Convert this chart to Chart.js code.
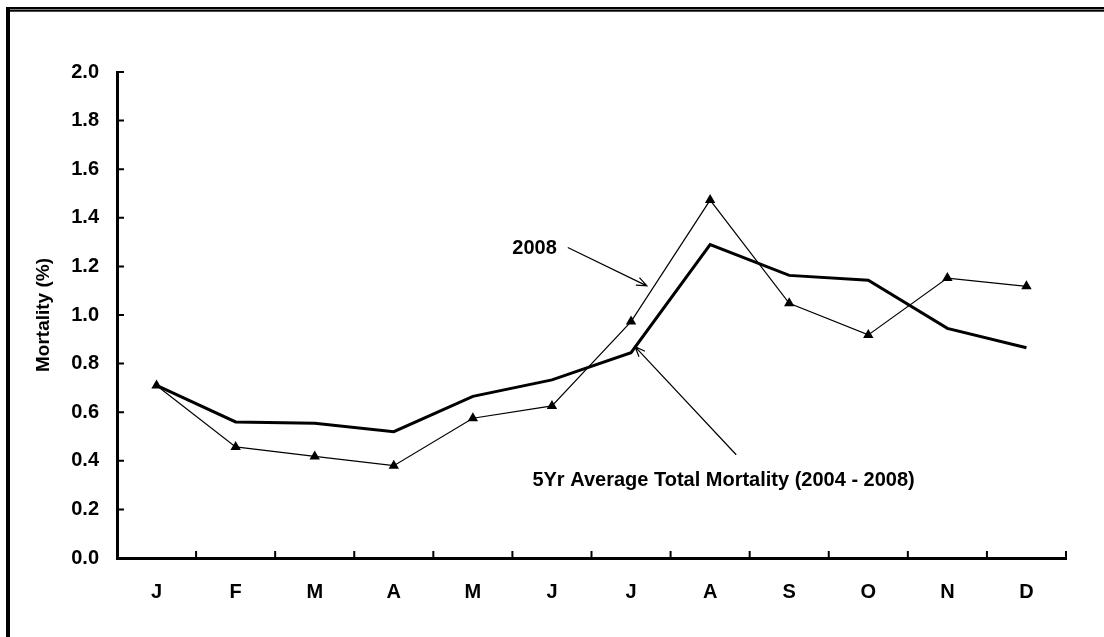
<!DOCTYPE html>
<html>
<head>
<meta charset="utf-8">
<script src="https://cdn.jsdelivr.net/npm/chart.js@4.4.0/dist/chart.umd.min.js"></script>
<style>
  html, body { margin: 0; padding: 0; background: #fff; }
  #wrap { width: 1104px; height: 637px; position: relative; }
</style>
</head>
<body>
<div id="wrap"><canvas id="chart" width="1104" height="637"></canvas></div>
<script>
// data
const months = ['J', 'F', 'M', 'A', 'M', 'J', 'J', 'A', 'S', 'O', 'N', 'D'];
const avgMortality = [0.71, 0.56, 0.555, 0.52, 0.665, 0.733, 0.845, 1.29, 1.163, 1.143, 0.945, 0.865];
const mortality2008 = [0.71, 0.457, 0.418, 0.38, 0.575, 0.626, 0.973, 1.473, 1.048, 0.918, 1.152, 1.118];
const yTicks = [0.0, 0.2, 0.4, 0.6, 0.8, 1.0, 1.2, 1.4, 1.6, 1.8, 2.0];

const FONT = 'Liberation Sans, Arial, sans-serif';

// frame around the whole picture (top double line + left line)
const framePlugin = {
    id: 'frame',
    beforeDraw(chart) {
        const ctx = chart.ctx;
        ctx.save();
        ctx.fillStyle = '#fff';
        ctx.fillRect(0, 0, chart.width, chart.height);
        ctx.fillStyle = '#000';
        ctx.fillRect(6, 7, chart.width - 6, 2.5);
        ctx.fillRect(6, 10, chart.width - 6, 1.7);
        ctx.fillRect(6, 7, 4, chart.height - 7);
        ctx.restore();
    }
};

// inward tick marks on both axes
const ticksPlugin = {
    id: 'innerTicks',
    afterDraw(chart) {
        const ctx = chart.ctx;
        const x = chart.scales.x;
        const y = chart.scales.y;
        const area = chart.chartArea;
        ctx.save();
        ctx.strokeStyle = '#000';
        ctx.lineWidth = 2;
        ctx.beginPath();
        yTicks.forEach(v => {
            const py = y.getPixelForValue(v);
            ctx.moveTo(area.left, py);
            ctx.lineTo(area.left + 7, py);
        });
        const w = (x.getPixelForValue(1) - x.getPixelForValue(0));
        for (let i = 1; i <= months.length; i++) {
            const px = x.getPixelForValue(i) - w / 2;
            ctx.moveTo(px, area.bottom + (i === months.length ? 1 : 0));
            ctx.lineTo(px, area.bottom - 7);
        }
        ctx.stroke();
        ctx.restore();
    }
};

function arrow(ctx, x1, y1, x2, y2) {
    const a = Math.atan2(y2 - y1, x2 - x1);
    const h = 11, s = 0.38;
    ctx.beginPath();
    ctx.moveTo(x1, y1);
    ctx.lineTo(x2, y2);
    ctx.moveTo(x2 - h * Math.cos(a - s), y2 - h * Math.sin(a - s));
    ctx.lineTo(x2, y2);
    ctx.lineTo(x2 - h * Math.cos(a + s), y2 - h * Math.sin(a + s));
    ctx.stroke();
}

// labels with arrows, placed in data coordinates
const notesPlugin = {
    id: 'notes',
    afterDatasetsDraw(chart) {
        const ctx = chart.ctx;
        const x = chart.scales.x;
        const y = chart.scales.y;
        const px = v => x.getPixelForValue(v);
        const py = v => y.getPixelForValue(v);
        ctx.save();
        ctx.fillStyle = '#000';
        ctx.strokeStyle = '#000';
        ctx.lineWidth = 1.2;
        ctx.font = 'bold 20px ' + FONT;
        ctx.textBaseline = 'middle';
        ctx.textAlign = 'center';
        ctx.fillText('2008', px(4.78), py(1.273));
        ctx.fillText('5Yr Average Total Mortality (2004 - 2008)', px(7.17), py(0.32));
        arrow(ctx, px(5.2), py(1.278), px(6.2), py(1.12));
        arrow(ctx, px(7.33), py(0.425), px(6.05), py(0.87));
        ctx.restore();
    }
};

new Chart(document.getElementById('chart'), {
    type: 'line',
    data: {
        labels: months,
        datasets: [
            {
                label: '5Yr Average Total Mortality (2004 - 2008)',
                data: avgMortality,
                borderColor: '#000',
                borderWidth: 3,
                pointRadius: 0,
                tension: 0
            },
            {
                label: '2008',
                data: mortality2008,
                borderColor: '#000',
                backgroundColor: '#000',
                borderWidth: 1.2,
                pointStyle: 'triangle',
                pointRadius: 6,
                pointBorderWidth: 0,
                tension: 0
            }
        ]
    },
    options: {
        responsive: false,
        animation: false,
        layout: { padding: { left: 0, right: 38, top: 72, bottom: 0 } },
        plugins: {
            legend: { display: false },
            tooltip: { enabled: false }
        },
        scales: {
            x: {
                offset: true,
                grid: { display: false, drawTicks: false },
                border: { display: true, color: '#000', width: 3 },
                ticks: {
                    color: '#000',
                    padding: 22,
                    font: { family: FONT, size: 20, weight: 'bold' }
                },
                afterFit: s => { s.height = 79; }
            },
            y: {
                min: 0,
                max: 2,
                grid: { display: false, drawTicks: false },
                border: { display: true, color: '#000', width: 3 },
                ticks: {
                    stepSize: 0.2,
                    color: '#000',
                    padding: 18,
                    font: { family: FONT, size: 20, weight: 'bold' },
                    callback: v => v.toFixed(1)
                },
                title: {
                    display: true,
                    text: 'Mortality (%)',
                    color: '#000',
                    padding: { top: 32, bottom: 0 },
                    font: { family: FONT, size: 19, weight: 'bold' }
                },
                afterFit: s => { s.width = 117; }
            }
        }
    },
    plugins: [framePlugin, ticksPlugin, notesPlugin]
});
</script>
</body>
</html>
